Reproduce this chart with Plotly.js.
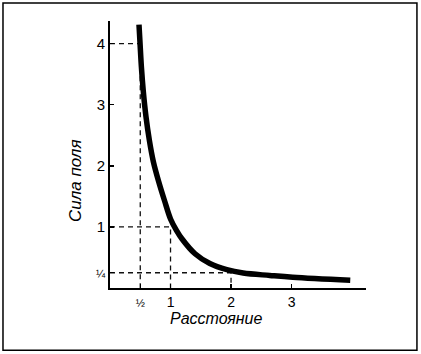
<!DOCTYPE html>
<html>
<head>
<meta charset="utf-8">
<script src="https://cdn.plot.ly/plotly-3.0.1.min.js"></script>
<style>
html,body{margin:0;padding:0;background:#fff;}
#chart{width:421px;height:354px;}
</style>
</head>
<body>
<div id="chart"></div>
<script>
// Curve (distance, field strength)
const distance = [0.479, 0.496, 0.52, 0.55, 0.595, 0.65, 0.716, 0.805, 0.904, 1.0, 1.1, 1.185, 1.405, 1.65, 1.93, 2.2, 2.64, 3.02, 3.97];
const strength = [4.31, 4.01, 3.60, 3.22, 2.80, 2.42, 2.07, 1.74, 1.42, 1.13, 0.94, 0.81, 0.56, 0.40, 0.30, 0.245, 0.205, 0.175, 0.126];
// Dashed guide points
const guideX = [0.5, 1, 2];
const guideY = [4, 1, 0.25];
// Ticks
const xTickVals = [0.5, 1, 2, 3];
const xTickText = ['<span style="font-size:11px">½</span>', '1', '2', '3'];
const yTickVals = [0.25, 1, 2, 3, 4];
const yTickText = ['<span style="font-size:11px">¼</span>', '1', '2', '3', '4'];
const xTitle = 'Расстояние';
const yTitle = 'Сила поля';

const traces = [];
guideX.forEach((gx, i) => {
  traces.push({
    x: [0, gx, gx], y: [guideY[i], guideY[i], 0],
    mode: 'lines', type: 'scatter', hoverinfo: 'skip',
    line: {color: '#111', width: 1.3, dash: '5px,4px'}
  });
});
traces.push({
  x: distance, y: strength, mode: 'lines', type: 'scatter',
  line: {color: '#000', width: 5.5, shape: 'spline', smoothing: 1}
});

const layout = {
  width: 421, height: 354,
  margin: {l: 110, r: 55, t: 21, b: 66.3},
  paper_bgcolor: '#fff', plot_bgcolor: '#fff',
  showlegend: false,
  font: {family: 'Liberation Sans, Arial, sans-serif', color: '#000', size: 14},
  xaxis: {
    range: [0, 4.23], showgrid: false, zeroline: false,
    showline: true, linecolor: '#000', linewidth: 1.8,
    ticks: 'inside', ticklen: 4, tickwidth: 1.4, tickcolor: '#000',
    tickvals: xTickVals, ticktext: xTickText,
    tickfont: {size: 14, family: 'Liberation Sans, Arial, sans-serif'}
  },
  yaxis: {
    range: [0, 4.37], showgrid: false, zeroline: false,
    showline: true, linecolor: '#000', linewidth: 1.8,
    ticks: 'inside', ticklen: 4, tickwidth: 1.4, tickcolor: '#000',
    tickvals: yTickVals, ticktext: yTickText,
    tickfont: {size: 15, family: 'Liberation Sans, Arial, sans-serif'}
  },
  annotations: [
    {text: '<i>' + xTitle + '</i>', xref: 'paper', yref: 'paper', x: 0.417, y: -0.113,
     xanchor: 'center', yanchor: 'middle', showarrow: false, font: {size: 16}},
    {text: '<i>' + yTitle + '</i>', xref: 'paper', yref: 'paper', x: -0.137, y: 0.404,
     xanchor: 'center', yanchor: 'middle', showarrow: false, textangle: -90, font: {size: 17}}
  ],
  shapes: [{
    type: 'rect', xref: 'paper', yref: 'paper',
    x0: -0.418, x1: 1.199, y0: -0.2336, y1: 1.0675,
    line: {color: '#000', width: 1.5}, layer: 'above'
  }]
};

Plotly.newPlot('chart', traces, layout, {staticPlot: true, displayModeBar: false});
</script>
</body>
</html>
